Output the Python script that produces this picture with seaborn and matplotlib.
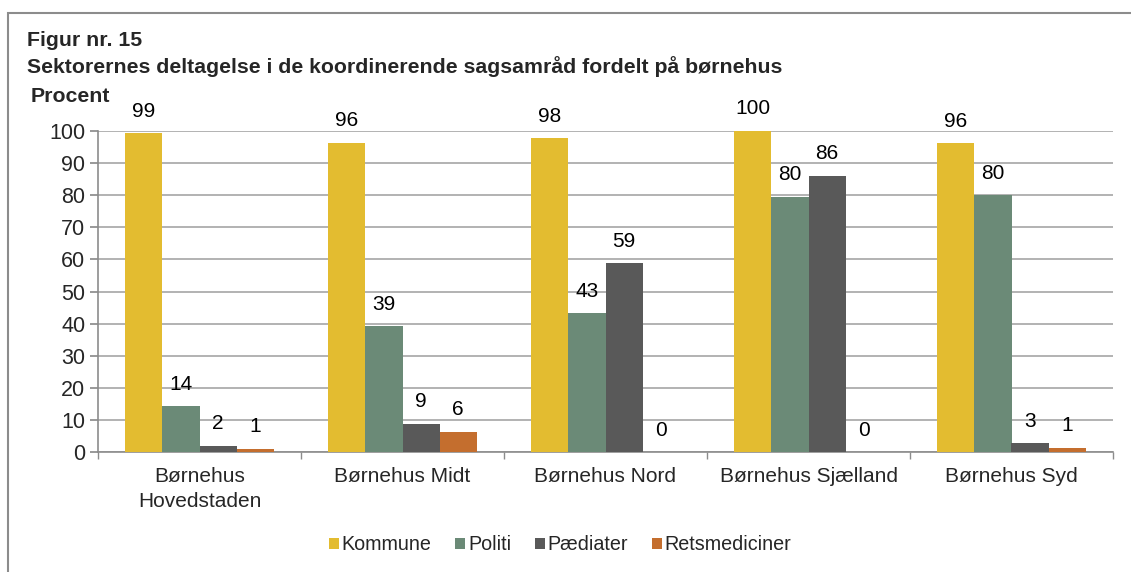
import matplotlib.pyplot as plt
import pandas as pd
import seaborn as sns
from matplotlib.patches import Rectangle

sns.set_theme(style="white")
plt.rcParams["font.family"] = ["Liberation Sans", "DejaVu Sans"]

# data
centers = ["Børnehus\nHovedstaden", "Børnehus Midt", "Børnehus Nord",
           "Børnehus Sjælland", "Børnehus Syd"]
sectors = ["Kommune", "Politi", "Pædiater", "Retsmediciner"]
kommune = [99.3, 96.3, 97.8, 100.0, 96.2]
politi = [14.3, 39.2, 43.2, 79.5, 80.0]
paediater = [2.0, 8.8, 58.8, 86.0, 2.7]
retsmed = [1.0, 6.3, 0.0, 0.0, 1.3]
colors = ["#E3BC30", "#6B8A77", "#595959", "#C46E2E"]

df = pd.DataFrame({
    "center": centers * 4,
    "sector": [s for s in sectors for _ in centers],
    "value": kommune + politi + paediater + retsmed,
})

fig = plt.figure(figsize=(11.31, 5.72), dpi=100)
ax = fig.add_axes([98 / 1131, 1 - 452 / 572, (1113 - 98) / 1131, (452 - 131) / 572])

sns.barplot(data=df, x="center", y="value", hue="sector", order=centers,
            hue_order=sectors, palette=colors, width=0.73, errorbar=None,
            saturation=1, linewidth=0, ax=ax, zorder=3)

for cont in ax.containers:
    ax.bar_label(cont, labels=[f"{b.get_height():.0f}" for b in cont],
                 padding=9, fontsize=15, color="black")

ax.set_ylim(0, 100)
ax.set_yticks(range(0, 101, 10))
ax.set_xlim(-0.5, len(centers) - 0.5)
ax.yaxis.grid(True, color="#A6A6A6", linewidth=1.2, zorder=0)
ax.set_axisbelow(True)
for side in ["top", "right"]:
    ax.spines[side].set_visible(False)
for side in ["left", "bottom"]:
    ax.spines[side].set_color("#8C8C8C")
    ax.spines[side].set_linewidth(1.2)

ax.set_xlabel("")
ax.set_ylabel("")
ax.tick_params(axis="y", labelsize=15.5, length=6, color="#8C8C8C", left=True,
               direction="out", pad=3)
ax.set_xticks([i - 0.5 for i in range(len(centers) + 1)], minor=True)
ax.tick_params(axis="x", which="major", length=0, labelsize=15, pad=11)
ax.tick_params(axis="x", which="minor", length=5, color="#8C8C8C", bottom=True,
               direction="out")
for lbl in ax.get_xticklabels():
    lbl.set_linespacing(1.35)

fig.text(27 / 1131, 1 - 41 / 572, "Figur nr. 15", fontsize=15.3,
         fontweight="bold", va="center")
fig.text(27 / 1131, 1 - 67 / 572,
         "Sektorernes deltagelse i de koordinerende sagsamråd fordelt på børnehus",
         fontsize=15.3, fontweight="bold", va="center")
fig.text(31 / 1131, 1 - 96 / 572, "Procent", fontsize=15.3,
         fontweight="bold", va="center")

ax.legend(loc="center", bbox_to_anchor=((560 - 98) / 1015, (545 - 452) / -321),
          ncol=4, frameon=False, fontsize=14.2, handlelength=0.5,
          handleheight=0.5, handletextpad=0.15, columnspacing=1.2)

fig.patches.append(Rectangle((8 / 1131, -0.1), 1.2, 1 - 13 / 572 + 0.1,
                             transform=fig.transFigure, fill=False,
                             edgecolor="#8C8C8C", linewidth=1.5))

fig.savefig("out.png", dpi=100)
